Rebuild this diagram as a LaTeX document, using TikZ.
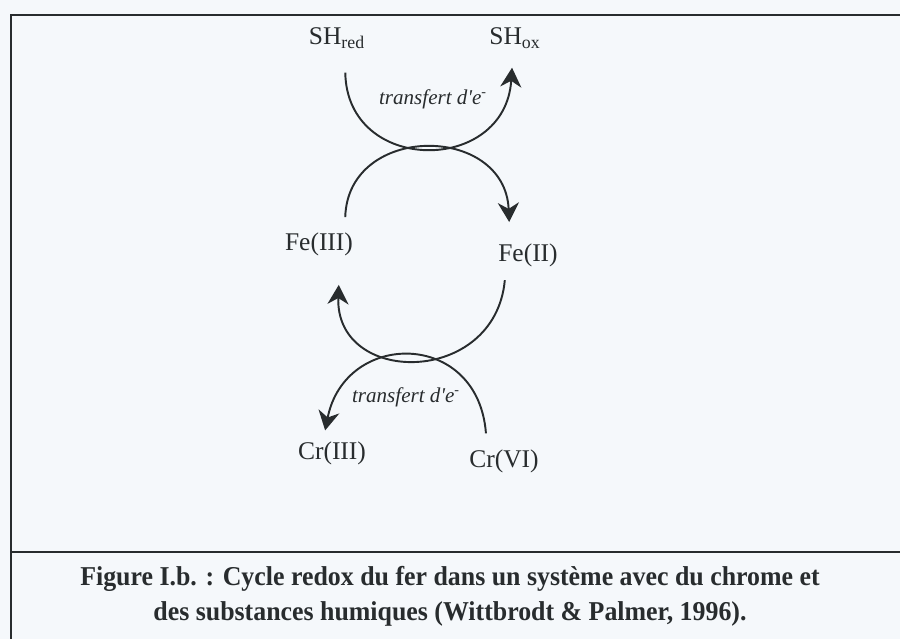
\documentclass[tikz,border=0pt]{standalone}
\usepackage{fontspec}
\setmainfont{Liberation Serif}
\usetikzlibrary{arrows.meta}
\definecolor{paper}{RGB}{245,248,251}
\definecolor{ink}{RGB}{40,44,46}

\begin{document}
\begin{tikzpicture}[x=0.02cm, y=-0.02cm,
    specie/.style={inner sep=0pt, text=ink, font=\fontsize{14.5}{17}\selectfont},
    transfer/.style={inner sep=0pt, text=ink, font=\fontsize{12}{14}\selectfont\itshape},
    capline/.style={inner sep=0pt, text=ink, xscale=0.95, transform shape, font=\fontsize{15.5}{18}\selectfont\bfseries},
    redox/.style={draw=ink, line width=1.1pt, -{Stealth[length=11pt,width=12pt,inset=3.5pt]}}]
        \fill[paper] (0,0) rectangle (900,639);
        \useasboundingbox (0,0) rectangle (900,639);
        \draw[ink, line width=1.1pt] (900,15) -- (11,15) -- (11,639);
        \draw[ink, line width=1.1pt] (11,552) -- (900,552);

        \node[specie] (shred) at (337,38) {SH\textsubscript{red}};
        \node[specie] (shox) at (515,38) {SH\textsubscript{ox}};
        \node[specie] (fe3) at (319,244) {Fe(III)};
        \node[specie] (fe2) at (528,255) {Fe(II)};
        \node[specie] (cr3) at (332,453) {Cr(III)};
        \node[specie] (cr6) at (504,461) {Cr(VI)};
        \node[transfer] (t1) at (433,99) {transfert d\textquotesingle e\textsuperscript{-}};
        \node[transfer] (t2) at (406,397) {transfert d\textquotesingle e\textsuperscript{-}};

        \draw[redox, shorten <=13.6pt, shorten >=10.8pt] ([xshift=4.5pt]shred.south) .. controls +(2,126) and +(-8,126) .. ([xshift=-1pt]shox.south);
        \draw[redox, shorten <=8.5pt, shorten >=12pt] ([xshift=14.7pt]fe3.north) .. controls +(3,-109) and +(-5,-119.5) .. ([xshift=-10.2pt]fe2.north);
        \draw[redox, shorten <=7.6pt, shorten >=16.5pt] ([xshift=-12.5pt]fe2.south) .. controls +(-11,119.5) and +(-5,130.4) .. ([xshift=11.9pt]fe3.south);
        \draw[redox, shorten <=9pt, shorten >=6.2pt] ([xshift=-9.6pt]cr6.north) .. controls +(-9,-119.4) and +(22,-111.4) .. ([xshift=-5.1pt]cr3.north);

        \node[capline] (cap1) at (450,579) {Figure I.b. : Cycle redox du fer dans un système avec du chrome et};
        \node[capline] (cap2) at (450,614) {des substances humiques (Wittbrodt \& Palmer, 1996).};
\end{tikzpicture}
\end{document}
